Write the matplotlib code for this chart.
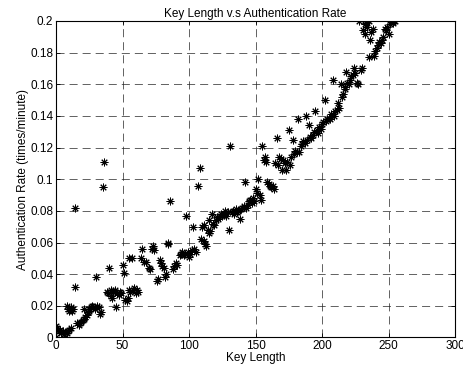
import matplotlib
matplotlib.use('Agg')
import matplotlib.pyplot as plt

# Datos (longitud de clave vs tasa de autenticacion)
key_length = [0, 0, 1, 2, 3, 4, 5, 6, 7, 8, 9, 10, 11,
              8, 9, 10, 11, 12, 13, 14, 14,
              16, 17, 18, 19, 20, 21, 22, 23, 24, 25, 26, 27, 28, 29, 21, 25,
              30, 31, 32, 33, 34, 35, 36,
              38, 39, 40, 41, 41, 42, 43, 44, 45, 46, 47, 48, 49,
              50, 51, 52, 53, 54, 55, 55, 56, 57, 58, 59, 60, 61, 62,
              64, 65, 66, 68, 70, 71, 72, 73, 74,
              76, 77, 78, 79, 80, 81, 82, 83, 84, 84,
              86, 88, 89, 90, 91,
              93, 94, 95, 96, 97, 98, 99, 100, 101, 102, 103, 104, 105,
              107, 108,
              109, 110, 111, 111, 112, 113, 114, 115, 115, 116, 117, 118, 119,
              120, 121, 122, 123, 124, 125, 126, 127, 128, 129, 130, 131, 132,
              133, 134, 135, 136, 137, 138, 139, 140, 141, 142, 143, 144, 145,
              146, 147, 148, 149,
              150, 151, 152, 153, 154, 155, 156, 157, 158, 159, 160, 161, 162,
              163, 164, 165, 166, 167, 168, 169, 170, 171, 172, 173, 174, 175,
              176, 177, 178, 179, 180, 181, 182, 183, 184, 185, 186, 187, 188,
              189, 190, 191, 192, 193, 194, 195, 196, 197, 198, 199, 200, 201,
              202, 203, 204, 205, 206, 207, 208, 209, 210, 211, 212, 213, 214,
              215, 216, 217, 217, 218, 219, 220, 221, 222, 223, 224, 225, 226,
              227, 228, 229, 230, 231, 232, 232, 233, 234, 235, 235, 236, 237,
              238, 239, 240, 241, 242, 243, 244, 245, 246, 247, 248, 249, 250,
              251, 252, 253, 254, 255]
auth_rate = [0.0, 0.007, 0.006, 0.004, 0.005, 0.003, 0.004, 0.002, 0.003, 0.003, 0.004, 0.005, 0.006,
             0.020, 0.018, 0.017, 0.019, 0.017, 0.018, 0.032, 0.082,
             0.009, 0.008, 0.009, 0.010, 0.011, 0.012, 0.013, 0.014, 0.016, 0.017, 0.019, 0.020, 0.019, 0.018, 0.018, 0.018,
             0.038, 0.020, 0.019, 0.015, 0.016, 0.095, 0.111,
             0.029, 0.028, 0.044, 0.026, 0.030, 0.025, 0.029, 0.030, 0.019, 0.028, 0.027, 0.029, 0.028,
             0.046, 0.041, 0.024, 0.023, 0.025, 0.030, 0.050, 0.029, 0.050, 0.030, 0.031, 0.028, 0.030, 0.029,
             0.050, 0.056, 0.048, 0.048, 0.044, 0.043, 0.056, 0.058, 0.055,
             0.036, 0.037, 0.049, 0.047, 0.045, 0.044, 0.038, 0.040, 0.059, 0.060,
             0.086, 0.043, 0.045, 0.047, 0.046,
             0.052, 0.053, 0.054, 0.052, 0.053, 0.077, 0.054, 0.051, 0.053, 0.055, 0.070, 0.056, 0.054,
             0.096, 0.107,
             0.062, 0.070, 0.061, 0.071, 0.059, 0.058, 0.068, 0.066, 0.074, 0.067, 0.078, 0.072, 0.071,
             0.074, 0.076, 0.075, 0.077, 0.078, 0.077, 0.078, 0.080, 0.077, 0.079, 0.068, 0.121, 0.079,
             0.080, 0.078, 0.081, 0.079, 0.080, 0.075, 0.081, 0.082, 0.083, 0.098, 0.082, 0.084, 0.086,
             0.087, 0.085, 0.088, 0.086,
             0.094, 0.091, 0.100, 0.090, 0.087, 0.121, 0.112, 0.114, 0.111, 0.098, 0.097, 0.096, 0.095,
             0.096, 0.094, 0.110, 0.126, 0.109, 0.114, 0.113, 0.106, 0.112, 0.110, 0.106, 0.111, 0.131,
             0.109, 0.114, 0.125, 0.116, 0.118, 0.117, 0.138, 0.117, 0.121, 0.122, 0.124, 0.123, 0.140,
             0.125, 0.134, 0.127, 0.126, 0.128, 0.130, 0.143, 0.131, 0.129, 0.133, 0.132, 0.135, 0.136,
             0.150, 0.137, 0.138, 0.139, 0.138, 0.141, 0.163, 0.140, 0.143, 0.144, 0.148, 0.145, 0.160,
             0.152, 0.154, 0.157, 0.158, 0.168, 0.161, 0.160, 0.163, 0.165, 0.166, 0.170, 0.167, 0.161,
             0.160, 0.200, 0.169, 0.170, 0.194, 0.198, 0.192, 0.199, 0.196, 0.177, 0.200, 0.188, 0.193,
             0.195, 0.178, 0.181, 0.183, 0.185, 0.187, 0.186, 0.188, 0.190, 0.195, 0.194, 0.196, 0.192,
             0.198, 0.200, 0.199, 0.200, 0.200]

x_ticks = [0, 50, 100, 150, 200, 250, 300]
y_ticks = [0, 0.02, 0.04, 0.06, 0.08, 0.1, 0.12, 0.14, 0.16, 0.18, 0.2]
y_labels = ['0', '0.02', '0.04', '0.06', '0.08', '0.1', '0.12', '0.14', '0.16', '0.18', '0.2']

plt.rcParams['font.family'] = 'Liberation Sans'
plt.rcParams['font.size'] = 8.5
plt.rcParams['lines.scale_dashes'] = False

fig = plt.figure(figsize=(4.64, 3.73), dpi=100)
ax = fig.add_axes([0.1207, 0.0952, 0.86, 0.8485])

ax.plot(key_length, auth_rate, linestyle='none', marker=(8, 2, 0),
        markersize=5.5, color='k', markeredgewidth=0.7, clip_on=True)

ax.set_xlim(0, 300)
ax.set_ylim(0, 0.2)
ax.set_xticks(x_ticks)
ax.set_yticks(y_ticks)
ax.set_yticklabels(y_labels)
ax.tick_params(direction='in', top=True, right=True, length=3, width=0.6, pad=2)
ax.grid(True, color='#222222', linestyle=(0, (5.8, 3.6)), linewidth=0.5)
for s in ax.spines.values():
    s.set_linewidth(0.8)

ax.set_title('Key Length v.s Authentication Rate', fontsize=8.5, pad=3)
ax.set_xlabel('Key Length', labelpad=0)
ax.set_ylabel('Authentication Rate (times/minute)', labelpad=1)

fig.savefig('out.png', dpi=100)
